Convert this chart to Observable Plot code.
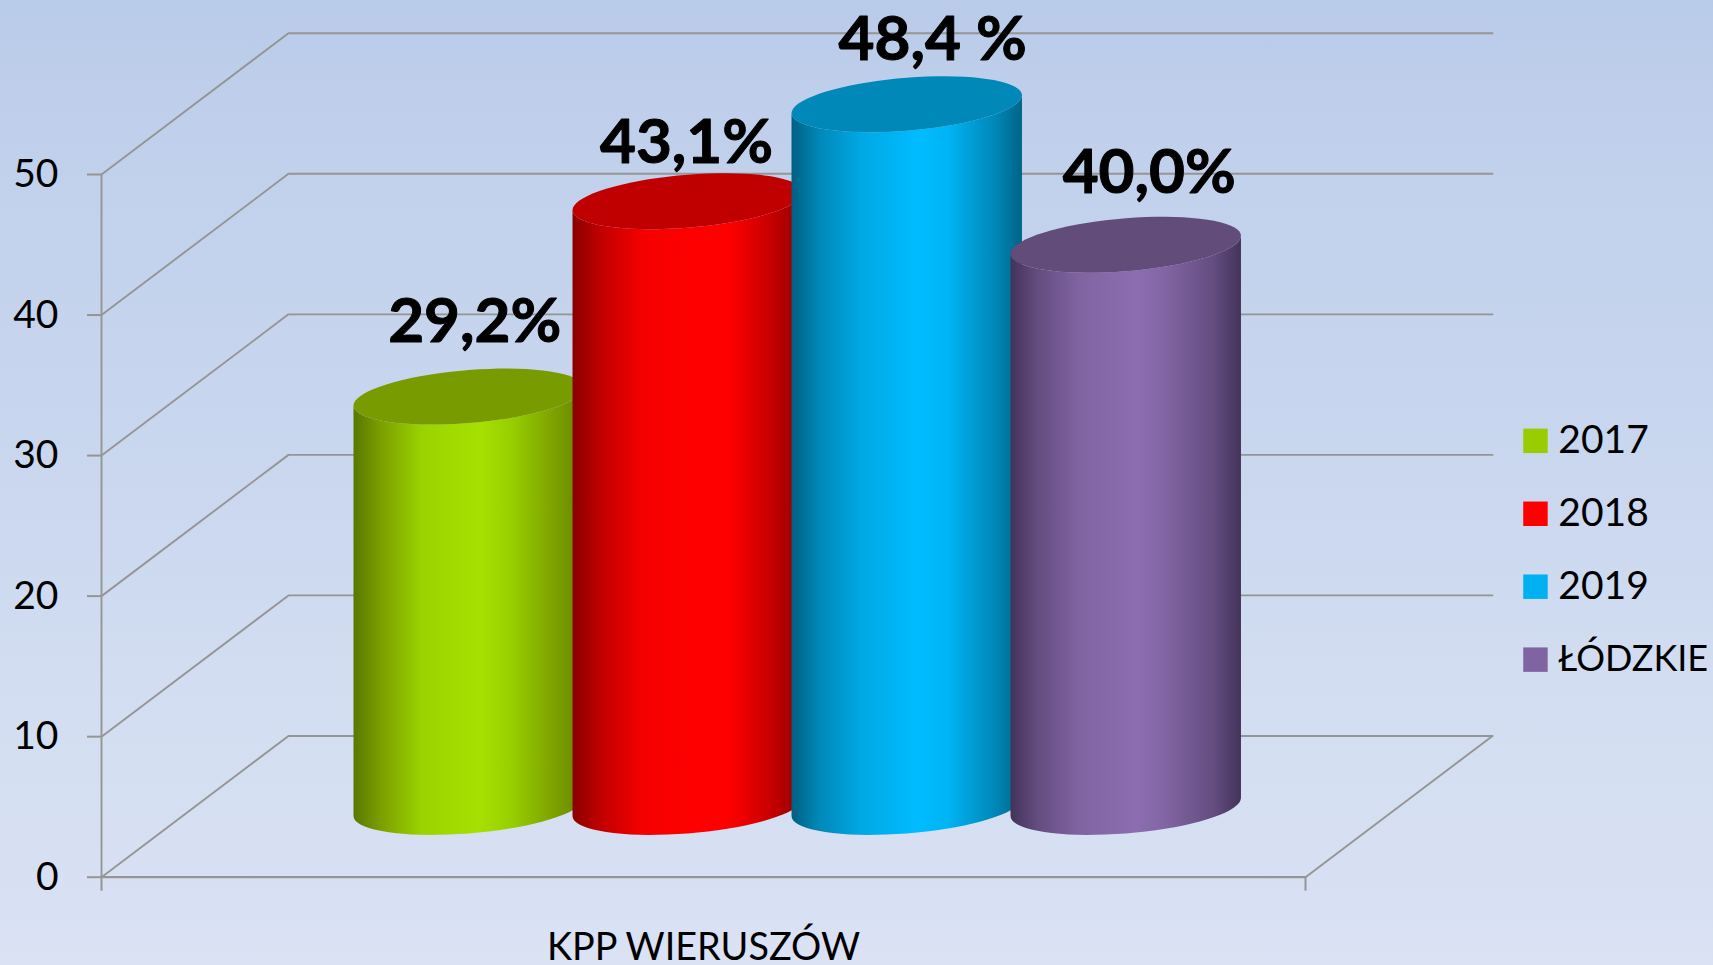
<!DOCTYPE html>
<html lang="pl">
<head>
<meta charset="utf-8">
<title>KPP WIERUSZÓW</title>
<script src="https://cdn.jsdelivr.net/npm/d3@7"></script>
<script src="https://cdn.jsdelivr.net/npm/@observablehq/plot@0.6"></script>
<style>
  html, body { margin: 0; padding: 0; width: 1713px; height: 965px; overflow: hidden; }
  body { background: linear-gradient(180deg, #b8cbe9 0%, #bfcfeb 10%, #cad7ef 50%, #d2ddf1 70%, #dae2f4 100%); }
  svg { display: block; }
</style>
</head>
<body>
<div id="chart"></div>
<script>
const category = "KPP WIERUSZÓW";
const series = ["2017", "2018", "2019", "ŁÓDZKIE"];
const barHeights = [29.2, 43.1, 50, 40.0];
const valueLabels = ["29,2%", "43,1%", "48,4 %", "40,0%"];
const yTicks = [0, 10, 20, 30, 40, 50];

const swatchColors = ["#9acd00", "#ff0000", "#00b0f0", "#8064a2"];
const topColors = ["#789c00", "#c00000", "#0088b8", "#624c7a"];
const bodyStops = [
  ["#587800", "#7c9f00", "#9ad400", "#a6e000", "#98d000", "#7c9f00", "#648600"],
  ["#8a0000", "#c00000", "#f40000", "#ff0000", "#ff0000", "#c00000", "#8a0000"],
  ["#005f82", "#0088b8", "#00a8e4", "#00bcff", "#00b4f4", "#0088b8", "#006488"],
  ["#43335a", "#644d80", "#8064a2", "#8c6eb0", "#8064a2", "#644d80", "#43335a"]
];
const stopOffsets = [0, 0.12, 0.3, 0.55, 0.68, 0.88, 1];

// Oblique projection in scale units: the back wall is one tick higher and shifted right
const depthX = 0.1553, depthY = 10.05;
const barStart = 0.2093, barStep = 0.1819, barWidth = 0.1914;
const baseLift = 5, tiltY = 0.64, minorY = 1.886;
const labelNudge = [[0.005, 3.85], [-0.001, 2.7], [0.0216, 3.13], [0.0195, 3.7]];

const cylinder = (i) => {
  const cx = barStart + i * barStep + barWidth / 2, rx = barWidth / 2;
  const top = barHeights[i] + baseLift;
  const at = (y0, t) => ({x: cx + rx * Math.cos(t), y: y0 + tiltY * Math.cos(t) + minorY * Math.sin(t)});
  const n = 72;
  const ring = d3.range(n + 1).map((k) => at(top, (k / n) * 2 * Math.PI));
  const lower = d3.range(n / 2 + 1).map((k) => at(baseLift, Math.PI + (k / (n / 2)) * Math.PI));
  const upper = d3.range(n / 2 + 1).map((k) => at(top, 2 * Math.PI - (k / (n / 2)) * Math.PI));
  return {ring, body: [...lower, ...upper]};
};

const gridPaths = yTicks.map((t) => [
  {x: 0, y: t}, {x: depthX, y: t + depthY}, {x: 1 + depthX, y: t + depthY}
]);

const defs = () => {
  const g = d3.create("svg:defs");
  bodyStops.forEach((stops, i) => {
    const lg = g.append("linearGradient").attr("id", `body${i}`).attr("x1", 0).attr("x2", 1).attr("y1", 0).attr("y2", 0);
    stops.forEach((c, k) => lg.append("stop").attr("offset", stopOffsets[k]).attr("stop-color", c));
  });
  return g.node();
};

const gray = "#959595";
const font = "Lato, 'Open Sans', sans-serif";

const plot = Plot.plot({
  width: 1713, height: 965,
  marginLeft: 101, marginRight: 408, marginTop: 174, marginBottom: 88.3,
  style: {background: "transparent", fontFamily: font, color: "#000", overflow: "visible"},
  x: {type: "linear", domain: [0, 1]},
  y: {type: "linear", domain: [0, 50]},
  color: {type: "ordinal", domain: series, range: swatchColors},
  marks: [
    defs,
    ...gridPaths.map((p) => Plot.line(p, {x: "x", y: "y", stroke: gray, strokeWidth: 1.9})),
    Plot.line([{x: 1, y: 0}, {x: 1 + depthX, y: depthY}], {x: "x", y: "y", stroke: gray, strokeWidth: 1.9}),
    Plot.ruleX([0], {y1: 0, y2: 50, stroke: gray, strokeWidth: 1.9}),
    Plot.ruleY([0], {x1: 0, x2: 1, stroke: gray, strokeWidth: 2.2}),
    Plot.axisY({ticks: yTicks, tickSize: 14, tickPadding: 29, stroke: gray, strokeWidth: 2, strokeOpacity: 1, fontSize: 39, fill: "#000", label: null, textAnchor: "end"}),
    Plot.axisX({ticks: [0, 1], tickSize: 14, tickFormat: () => "", stroke: gray, strokeWidth: 2, strokeOpacity: 1, label: null}),
    ...series.flatMap((s, i) => {
      const c = cylinder(i);
      return [
        Plot.line(c.body, {x: "x", y: "y", fill: `url(#body${i})`, stroke: null}),
        Plot.line(c.ring, {x: "x", y: "y", fill: topColors[i], stroke: null})
      ];
    }),
    Plot.text(valueLabels, {
      x: (d, i) => barStart + i * barStep + barWidth / 2 + labelNudge[i][0],
      y: (d, i) => barHeights[i] + baseLift + labelNudge[i][1],
      text: (d) => d,
      fontSize: 62, fontWeight: 700, fill: "#000", stroke: "#000", strokeWidth: 1, textAnchor: "middle", lineAnchor: "bottom", dy: 0
    }),
    Plot.text([category], {x: [0.5], y: [0], text: (d) => d, fontSize: 37.8, fill: "#000", textAnchor: "middle", lineAnchor: "bottom", dy: 83}),
    Plot.dot(series, {x: () => 1.191, y: (d, i) => 31.05 - i * 5.19, fill: (d) => d, symbol: "square", r: 13.8, stroke: null}),
    Plot.text(series.slice(0, 3), {x: () => 1.2100, y: (d, i) => 31.05 - i * 5.19, text: (d) => d, fontSize: 39, fill: "#000", textAnchor: "start", lineAnchor: "middle"}),
    Plot.text(series.slice(3), {x: () => 1.2100, y: () => 31.05 - 3 * 5.19, text: (d) => d, fontSize: 36, fill: "#000", textAnchor: "start", lineAnchor: "middle"})
  ]
});
document.getElementById("chart").append(plot);
</script>
</body>
</html>
